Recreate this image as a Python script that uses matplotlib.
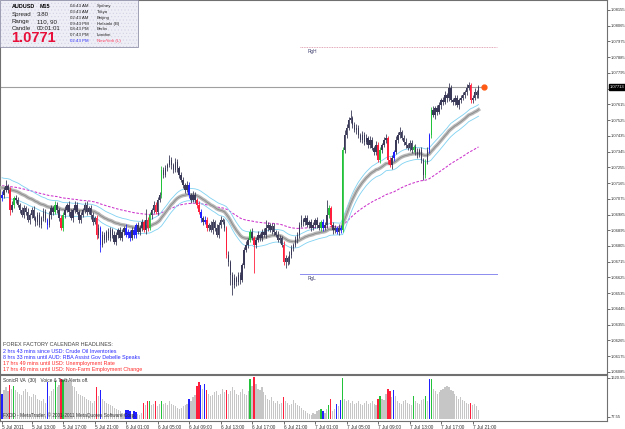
import matplotlib
matplotlib.use("Agg")
import matplotlib.pyplot as plt
import matplotlib.transforms as mtransforms
from matplotlib.patches import Rectangle
from matplotlib import font_manager
import numpy as np
import pandas as pd

# ---------------- data ----------------
first_open = 1.07080
closes = [
 1.07097,1.07125,1.07148,1.07125,1.07011,1.07040,1.07080,1.07068,1.07040,1.07011,
 1.06982,1.07022,1.07000,1.06954,1.06982,1.07011,1.06965,1.06942,1.06982,1.06925,
 1.06965,1.07000,1.06954,1.06925,1.06982,1.07022,1.07000,1.07040,1.07011,1.06965,
 1.06908,1.06982,1.07011,1.07040,1.07000,1.06965,1.07011,1.07040,1.07000,1.06954,
 1.06982,1.07011,1.07040,1.07000,1.07022,1.06982,1.06942,1.06965,1.06868,1.06908,
 1.06811,1.06868,1.06840,1.06885,1.06851,1.06896,1.06868,1.06828,1.06868,1.06896,
 1.06851,1.06885,1.06908,1.06868,1.06885,1.06851,1.06896,1.06868,1.06925,1.06885,
 1.06908,1.06942,1.06896,1.06954,1.06908,1.06982,1.07011,1.07040,1.07000,1.07068,
 1.07097,1.07240,1.07211,1.07251,1.07268,1.07297,1.07268,1.07240,1.07286,1.07251,
 1.07211,1.07183,1.07154,1.07125,1.07154,1.07097,1.07068,1.07097,1.07068,1.07040,
 1.07000,1.06965,1.06942,1.06954,1.06908,1.06925,1.06896,1.06942,1.06908,1.06868,
 1.06925,1.06954,1.06942,1.06908,1.06754,1.06713,1.06639,1.06582,1.06622,1.06599,
 1.06639,1.06611,1.06696,1.06782,1.06811,1.06840,1.06885,1.06851,1.06811,1.06840,
 1.06868,1.06851,1.06885,1.06868,1.06908,1.06925,1.06896,1.06919,1.06885,1.06868,
 1.06840,1.06851,1.06811,1.06713,1.06736,1.06713,1.06754,1.06794,1.06811,1.06840,
 1.06868,1.06925,1.06954,1.06942,1.06965,1.06925,1.06942,1.06908,1.06925,1.06954,
 1.06925,1.06908,1.06942,1.06908,1.06925,1.06982,1.07022,1.06925,1.06896,1.06908,
 1.06885,1.06908,1.06896,1.07354,1.07440,1.07480,1.07526,1.07537,1.07497,1.07468,
 1.07480,1.07440,1.07412,1.07440,1.07400,1.07423,1.07383,1.07412,1.07366,1.07343,
 1.07383,1.07297,1.07354,1.07383,1.07412,1.07423,1.07297,1.07268,1.07308,1.07343,
 1.07412,1.07440,1.07457,1.07423,1.07400,1.07383,1.07366,1.07394,1.07354,1.07371,
 1.07343,1.07326,1.07354,1.07297,1.07211,1.07286,1.07354,1.07440,1.07583,1.07554,
 1.07594,1.07571,1.07611,1.07640,1.07629,1.07669,1.07651,1.07709,1.07640,1.07629,
 1.07651,1.07611,1.07640,1.07651,1.07669,1.07686,1.07709,1.07726,1.07640,1.07651,
 1.07686,1.07669,1.07713,
]
# wick lengths beyond the candle body, in pips
wick_up = [
 2,1.5,3.4,1,1.5,2,1,1.5,2,1, 1.5,2,1,2.5,1,1.5,2,1,2,1.5, 1,2,1.5,1,2.5,1.5,1,2,1.5,1,
 2,1.5,2.5,1,2,1.5,1,2,1.5,1, 2,1,1.5,2,1,1.5,2,1,1.5,2, 1,2.5,1.5,1,2,1.5,1,2,1.5,1,
 2,1.5,1,2,1.5,1,2,1.5,1,2, 1.5,2,1,6,1.5,2,1,2.5,1.5,2, 1.5,2,1.5,2,1,2.9,1.5,1,2,1.5,
 1,2,1.5,1,2,1.5,1,2,1.5,1, 2,1.5,1,2,1.5,1,2.5,1.5,1,2, 1.5,2.5,1,1.5,1,2,1,1.5,2,1,
 1.5,2,1,1.5,2,1,1.5,2,1,1.5, 2,1,1.5,2,4.6,1.5,1,2,1.5,1, 2,1.5,1,2,1.5,1,2,1.5,1,2,
 1.5,2,2.9,1,1.5,2,1,1.5,2,1, 1.5,2,1,1.5,2,8.6,1.5,1,2,1.5, 1,2,1.5,2,3,2,1.5,4.6,1,1.5,
 2,1.5,1,2,1.5,2.5,1,2,1.5,1, 2,1.5,2,1,1.5,2,1,1.5,2,1, 2,1.5,2.9,1,1.5,2,1,1.5,2,1,
 1.5,2,1,1.5,1,1.5,2,1,1.5,2, 1,1.5,2,1,1.5,2,1,2.9,1.5,1, 2,1.5,1,2,1.5,1,2,1.7,1,1.5,
 2,1,1.5,
]
wick_dn = [
 1.5,2,1,1.5,2.9,1,2,1.5,1,2, 1,1.5,2,1,2.5,1.5,1,2,1.5,1, 2,1.5,1,2.5,1,2,1.5,1,2,1.5,
 1,2,1.5,1,2.5,1,2,1.5,1,2, 1.5,1,2,1.5,1,2,1.5,1,2.5,1.5, 4,1,2,1.5,1,2,1.5,1,2,1.5,
 1,2,1.5,1,2,1.5,1,2,1.5,1, 2,1.5,1,2,1.5,1,2,1.5,1,2, 1,1.5,2,1,1.5,1,2,1.5,1,2,
 1.5,1,2,1.5,1,2,1.5,1,2,1.5, 1,2,1.5,1,2,1.5,1,2,1.5,1, 2,1.5,1,2,2,2.5,5.7,5.7,2,2.5,
 1.5,2.5,1,1.5,1,2,1.5,1,16,1.5, 1,2,1.5,1,2,1.5,1,2,1.5,1, 1.5,2,1,1.5,3.4,1.5,1,2,1.5,1,
 2,1.5,1,2,1.5,1,2,1.5,1,2, 1.5,1,2,1.5,1,2,1.5,1,2,1.5, 1,2,1.5,1,2,1.5,1,2,1.5,1,
 2,1.5,1,2,1.5,1,2,1.5,1,2, 1.5,1,2,1.5,1,2,2.5,1,2,1.5, 1,2,1.5,1,2,1.5,1,2,1.5,1,
 2,1.5,1,2,2.9,1.5,1,2,1.5,1, 2,1.5,1,2,1.5,1,2,1.5,1,2, 1.5,1,2,1.5,1,2,1.5,1,2,1.5,
 1,2,1.5,
]
volumes = [
 1000,1150,1250,1100,1350,1200,1300,1150,1050,1000,
 950,1100,1200,1050,900,850,1000,950,800,750,
 700,800,650,1450,900,1100,1200,1500,1250,1350,
 1600,1550,1620,1580,1500,1450,1300,1250,1100,1000,
 950,900,850,800,750,700,650,700,1250,900,
 1150,800,700,650,600,550,500,450,400,350,
 300,250,200,350,350,300,150,300,280,200,
 150,250,650,550,700,700,550,600,700,500,
 600,700,600,650,550,700,600,550,500,450,
 400,450,500,550,600,800,700,850,950,1300,
 1450,1350,1200,1400,1150,1000,900,950,1050,1100,
 950,1000,1200,1050,1150,1000,1100,1250,1150,1000,
 950,1050,1200,1000,950,1100,1600,1300,1650,1400,
 1200,1150,1250,1050,950,800,750,850,700,650,
 700,600,650,850,700,650,550,600,750,650,
 550,500,450,350,300,250,200,150,250,200,
 300,350,400,300,250,400,550,800,300,400,
 600,500,750,1620,800,700,750,650,700,600,
 650,700,600,550,650,700,600,650,700,600,
 550,800,900,800,750,1000,1200,1100,850,1150,
 900,700,650,600,700,750,650,600,550,900,
 700,650,600,750,800,900,700,1600,1600,1200,
 1100,1000,1050,1150,1200,1250,1300,1250,1150,1100,
 1000,900,800,850,750,700,650,600,650,550,
 600,500,350,
]
blue_bars = [0, 23, 50, 63, 64, 65, 67, 68, 95, 101, 103, 163, 170, 172, 199, 217]
red_bars = [4, 30, 48, 72, 74, 78, 99, 100, 104, 114, 128, 143, 167, 191, 196, 197, 238]
green_bars = [6, 27, 31, 75, 81, 126, 162, 166, 173, 192, 209, 215, 218]

bar_times = pd.date_range("2011-07-05 09:15", periods=len(closes), freq="15min")
price_ticks = [round(1.08155 - 0.0009 * k, 5) for k in range(24)]
current_price = 1.07713
range_high, range_low = 1.07943, 1.06645
vol_ticks = [1620.55, 77.55]

info_left = ["Spread", "Range", "Candle"]
info_left_vals = ["3.80", "110, 90", "00:01:01"]
clock_times = ["04:43 AM", "03:43 AM", "02:43 AM", "09:43 PM", "08:43 PM", "07:43 PM", "02:43 PM"]
clock_cities = ["Sydney", "Tokyo", "Beijing", "Helsinki (B)", "Berlin", "London", "NewYork (L)"]
headlines = [
    ("FOREX FACTORY CALENDAR HEADLINES:", "#404040"),
    ("2 hrs 43 mins since USD: Crude Oil Inventories", "#2a2aff"),
    ("8 hrs 33 mins until AUD: RBA Assist Gov Debelle Speaks", "#2a2aff"),
    ("17 hrs 49 mins until USD: Unemployment Rate", "#ff2a2a"),
    ("17 hrs 49 mins until USD: Non-Farm Employment Change", "#ff2a2a"),
]

# ---------------- derived ----------------
n = len(closes)
assert len(wick_up) == n and len(wick_dn) == n and len(volumes) == n
idx = np.arange(n)
c = np.array(closes)
o = np.array([first_open] + closes[:-1])
hi = np.maximum(o, c) + np.array(wick_up) * 0.0001
lo = np.minimum(o, c) - np.array(wick_dn) * 0.0001

def ema(vals, period, seed):
    a = 2.0 / (period + 1)
    out, prev = [], seed
    for v in vals:
        prev = prev + a * (v - prev)
        out.append(prev)
    return np.array(out)

ma_mid = ema(c, 34, 1.07140)
ma_up = ema(hi, 34, 1.07200)
ma_dn = ema(lo, 34, 1.07080)
ma_slow = ema(c, 100, 1.07150)

NORMAL = "#3a3a58"
col_map = {}
for i in blue_bars: col_map[i] = "#1f1fff"
for i in red_bars: col_map[i] = "#ff1f3c"
for i in green_bars: col_map[i] = "#22c23a"
cand_cols = [col_map.get(i, NORMAL) for i in range(n)]
vol_cols = [col_map.get(i, "#c6c6c6") for i in range(n)]

# fonts
installed = {f.name for f in font_manager.fontManager.ttflist}
if "Liberation Sans Narrow" in installed:
    NARROW = ["Liberation Sans Narrow", "DejaVu Sans"]
elif "DejaVu Sans Condensed" in installed:
    NARROW = ["DejaVu Sans Condensed", "DejaVu Sans"]
else:
    NARROW = ["Liberation Sans", "DejaVu Sans"]
SANS = ["Liberation Sans", "DejaVu Sans"]

# ---------------- figure ----------------
W, H = 625, 429
fig = plt.figure(figsize=(W / 100, H / 100), dpi=100)
fig.patch.set_facecolor("white")
plt.rcParams["hatch.linewidth"] = 0.35

def fx(x): return x / W
def fy(y): return 1 - y / H

ax = fig.add_axes([0, fy(374), 607 / W, 374 / H])
axv = fig.add_axes([0, fy(421), 607 / W, 46 / H])

px_per_bar = 1.969
x0 = -2 / px_per_bar
x1 = x0 + 607 / px_per_bar
for a in (ax, axv):
    a.set_xlim(x0, x1)
    for s in a.spines.values():
        s.set_color("#707070")
        s.set_linewidth(0.8)

ax.set_ylim(1.08212 - 0.0000572 * 374, 1.08212)

# moving averages
ax.plot(idx, ma_slow, color="#cc33cc", lw=0.75, ls=(0, (2.5, 1.5)), zorder=3)
ax.plot(idx, ma_up, color="#7fd2f2", lw=0.6, zorder=3)
ax.plot(idx, ma_dn, color="#7fd2f2", lw=0.6, zorder=3)
ax.plot(idx, ma_mid, color="#b8b8b8", lw=2.6, zorder=3)
ax.plot(idx, ma_mid, color="#8a8a8a", lw=0.6, zorder=3)

# candles
ax.vlines(idx, lo, hi, colors=cand_cols, lw=0.6, zorder=4)
body_lo = np.minimum(o, c)
body_h = np.maximum(np.abs(c - o), 0.00003)
ax.bar(idx, body_h, bottom=body_lo, width=0.75, color=cand_cols, lw=0, zorder=4)

# current price line + marker
ax.plot([x0, 244.8], [current_price, current_price], color="#a0a0a0", lw=0.8, zorder=2)
ax.plot([244.8], [current_price], "o", color="#ff5a14", ms=3.5, zorder=5)

# range lines
rg_start, rg_end = 151.3, 251.4
ax.plot([rg_start, rg_end], [range_high, range_high], color="#d88aa0", lw=0.6, ls=(0, (1, 1)), zorder=2)
ax.plot([rg_start, rg_end], [range_low, range_low], color="#8c8cf0", lw=0.7, zorder=2)
ax.text(155.4, range_high - 0.00012, "RgH", fontsize=3.4, color="#404070", va="top", ha="left", family=SANS)
ax.text(155.4, range_low - 0.00012, "RgL", fontsize=3.4, color="#404070", va="top", ha="left", family=SANS)

# price axis
ax.yaxis.tick_right()
ax.set_yticks(price_ticks)
ax.set_yticklabels([f"{t:.5f}" for t in price_ticks], family=NARROW)
ax.tick_params(axis="y", labelsize=3.0, length=2, width=0.5, pad=0.8, colors="#303030")
ax.set_xticks([])
tr = mtransforms.blended_transform_factory(ax.transAxes, ax.transData)
ax.text(1.0045, current_price, f"{current_price:.5f}", transform=tr, fontsize=3.0, color="white",
        family=NARROW, va="center", ha="left", clip_on=False, zorder=6,
        bbox=dict(boxstyle="square,pad=0.2", fc="black", ec="black"))

# headlines
for k, (txt, col) in enumerate(headlines):
    fig.text(fx(3), fy(345 + 6.2 * k), txt, fontsize=3.9, color=col, va="center", ha="left",
             family=SANS, zorder=6)

# volume panel
axv.bar(idx, volumes, width=0.62, color=vol_cols, lw=0, zorder=3)
axv.set_ylim(-81, 1739)
axv.yaxis.tick_right()
axv.set_yticks(vol_ticks)
axv.set_yticklabels([f"{v:.2f}" for v in vol_ticks], family=NARROW)
axv.tick_params(axis="y", labelsize=3.0, length=2, width=0.5, pad=0.8, colors="#303030")
tick_pos = [i for i, t in enumerate(bar_times) if t.minute == 0 and t.hour % 4 == 1]
tick_lab = [f"{t.day} Jul {t:%H:%M}" for t in bar_times[tick_pos]]
tick_pos = [0] + tick_pos
tick_lab = [f"{bar_times[0].day} Jul {bar_times[0].year}"] + tick_lab
axv.set_xticks(tick_pos)
axv.set_xticklabels(tick_lab, family=SANS)
axv.tick_params(axis="x", labelsize=3.4, length=2, width=0.5, pad=1.0, colors="#303030")
for lab in axv.get_xticklabels():
    lab.set_horizontalalignment("left")
axv.text(0.005, 0.88, "SonicR VA  (30)   Voice & Text Alerts off.", transform=axv.transAxes,
         fontsize=3.4, color="#303030", va="center", ha="left", family=SANS)
axv.text(0.005, 0.13, "FXDD - MetaTrader, \u00a9 2001-2011 MetaQuotes Software Corp.", transform=axv.transAxes,
         fontsize=3.4, color="#303030", va="center", ha="left", zorder=5, family=SANS)

# info box
fig.patches.append(Rectangle((0, fy(47)), fx(138), 47 / H, transform=fig.transFigure,
                             facecolor="#eeeef6", edgecolor="#cfcfe2", lw=0, hatch=".....", zorder=5))
fig.patches.append(Rectangle((0, fy(47)), fx(138), 47 / H, transform=fig.transFigure,
                             facecolor="none", edgecolor="#9090a8", lw=0.6, zorder=5))
fig.text(fx(12), fy(6), "AUDUSD", fontsize=3.9, fontweight="bold", color="black", va="center", ha="left",
         family=SANS, zorder=6)
fig.text(fx(40), fy(6), "M15", fontsize=3.9, fontweight="bold", color="black", va="center", ha="left",
         family=SANS, zorder=6)
for k, (lab, val) in enumerate(zip(info_left, info_left_vals)):
    yy = 14.5 + 7 * k
    fig.text(fx(12), fy(yy), lab, fontsize=4.4, color="#202020", va="center", ha="left", family=SANS, zorder=6)
    fig.text(fx(37), fy(yy), val, fontsize=4.4, color="#202020", va="center", ha="left", family=SANS, zorder=6)
fig.text(fx(11), fy(38.5), f"{current_price:.4f}", fontsize=10.5, fontweight="bold", color="#e8103a",
         family=SANS, va="center", ha="left", zorder=6)
for k, (t, city) in enumerate(zip(clock_times, clock_cities)):
    yy = 5.7 + 5.95 * k
    last = k == len(clock_times) - 1
    fig.text(fx(70), fy(yy), t, fontsize=3.2, color="#3030ff" if last else "#202020", va="center", ha="left",
             family=SANS, zorder=6)
    fig.text(fx(97), fy(yy), city, fontsize=3.2, color="#ff4060" if last else "#202020", va="center", ha="left",
             family=SANS, zorder=6)

fig.savefig("out.png", dpi=100, facecolor="white")
